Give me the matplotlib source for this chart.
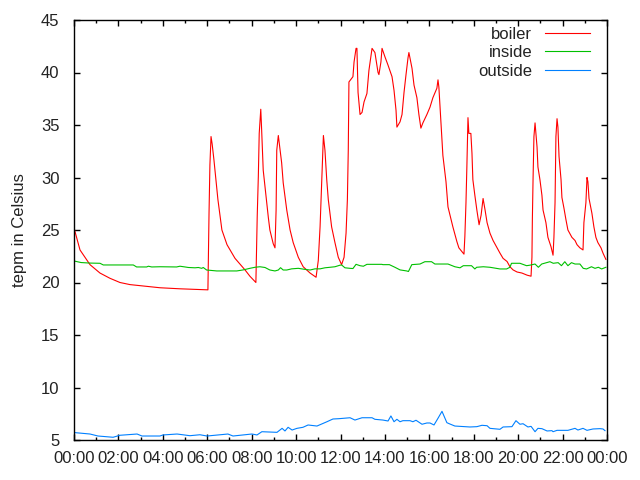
import matplotlib
matplotlib.use("Agg")
import matplotlib.pyplot as plt
from matplotlib.ticker import MultipleLocator, FuncFormatter

plt.rcParams['font.family'] = ['Liberation Sans', 'DejaVu Sans']

# ---- data (hours since midnight, temperature in Celsius) ----
boiler_h = [0.00, 0.27, 0.72, 1.17, 1.62, 2.07, 2.52, 2.97, 3.42, 3.87, 4.77, 6.03,
            6.08, 6.12, 6.17, 6.22, 6.30, 6.48, 6.66, 6.89, 7.25, 7.70, 7.92, 8.19,
            8.25, 8.30, 8.34, 8.41, 8.45, 8.52, 8.60, 8.68, 8.75, 8.82, 8.90, 8.97, 9.05,
            9.10, 9.13, 9.20, 9.35, 9.42, 9.58, 9.73, 9.87, 10.10, 10.32, 10.63, 10.90,
            11.00, 11.08, 11.15, 11.23, 11.30, 11.38, 11.45, 11.60, 11.75, 11.90, 12.05,
            12.16, 12.25, 12.31, 12.35, 12.38, 12.56, 12.61, 12.70, 12.74, 12.79, 12.88,
            12.97, 13.06, 13.19, 13.28, 13.42, 13.55, 13.69, 13.73, 13.82, 13.87, 14.00,
            14.14, 14.32, 14.41, 14.50, 14.54, 14.68, 14.77, 14.86, 14.95, 15.04, 15.08,
            15.22, 15.31, 15.44, 15.53, 15.62, 15.71, 15.89, 16.03, 16.16, 16.34, 16.39,
            16.43, 16.52, 16.61, 16.75, 16.84, 16.97, 17.06, 17.24, 17.33, 17.56, 17.60,
            17.65, 17.69, 17.74, 17.78, 17.87, 17.92, 17.96, 18.05, 18.14, 18.24, 18.33,
            18.42, 18.51, 18.60, 18.73, 18.87, 19.05, 19.18, 19.32, 19.50, 19.63, 19.77,
            19.95, 20.17, 20.40, 20.58, 20.62, 20.64, 20.67, 20.71, 20.76, 20.85, 20.89,
            20.98, 21.07, 21.12, 21.25, 21.34, 21.48, 21.57, 21.61, 21.66, 21.70, 21.75,
            21.79, 21.84, 21.93, 21.97, 22.06, 22.15, 22.24, 22.42, 22.56, 22.65, 22.78,
            22.92, 22.96, 23.05, 23.10, 23.14, 23.19, 23.32, 23.41, 23.50, 23.59, 23.73,
            23.82, 23.95]
boiler_t = [25.2, 23.1, 21.7, 20.9, 20.4, 20.0, 19.8, 19.7, 19.6, 19.5, 19.4, 19.3,
            26.6, 31.2, 33.9, 33.2, 31.7, 27.9, 25.0, 23.6, 22.3, 21.2, 20.6, 20.0,
            26.3, 30.1, 34.2, 36.5, 34.5, 30.7, 29.1, 27.6, 26.2, 25.0, 24.3, 23.7, 23.3,
            26.9, 32.6, 34.0, 31.4, 29.5, 26.9, 25.0, 23.8, 22.4, 21.5, 20.9, 20.5,
            22.1, 25.3, 29.5, 34.0, 32.6, 29.8, 27.9, 25.3, 23.8, 22.4, 21.7,
            22.4, 24.7, 27.9, 32.6, 39.1, 39.6, 41.0, 42.3, 42.3, 38.1, 36.0,
            36.2, 37.2, 38.0, 40.2, 42.3, 41.9, 40.0, 39.8, 41.0, 42.3, 41.5,
            40.7, 39.6, 38.3, 36.4, 34.8, 35.3, 36.0, 38.1, 39.8, 41.4, 41.9,
            40.4, 38.8, 37.6, 36.0, 34.7, 35.2, 36.0, 36.7, 37.6, 38.5, 39.3,
            38.6, 35.3, 32.1, 29.6, 27.2, 26.1, 25.3, 23.9, 23.3, 22.7, 24.4,
            27.6, 31.0, 35.7, 34.2, 34.2, 32.3, 29.8, 28.3, 26.9, 25.5, 26.4,
            28.0, 26.9, 25.7, 24.7, 24.0, 23.3, 22.8, 22.3, 22.0, 21.5, 21.2,
            21.0, 20.9, 20.7, 20.6, 22.4, 26.1, 29.8, 33.9, 35.2, 32.9, 31.0,
            29.8, 28.3, 26.9, 25.7, 24.3, 23.4, 22.6, 24.3, 27.6, 33.9, 35.6,
            34.8, 32.0, 29.8, 28.1, 27.1, 26.0, 25.0, 24.3, 24.0, 23.6, 23.3,
            23.1, 25.7, 27.6, 30.0, 29.6, 28.0, 26.6, 25.3, 24.3, 23.8, 23.3,
            22.8, 22.2]

inside_h = [0.00, 0.32, 0.72, 1.17, 1.32, 2.67, 2.82, 3.27, 3.35, 3.50, 3.87, 4.62,
            4.77, 5.00, 5.15, 5.45, 5.60, 5.75, 5.82, 5.97, 6.43, 7.33, 7.62, 7.92,
            8.15, 8.37, 8.60, 8.82, 9.05, 9.20, 9.30, 9.42, 9.58, 9.80, 10.10, 10.40,
            10.63, 10.85, 11.08, 11.30, 11.53, 11.75, 11.98, 12.05, 12.20, 12.43, 12.56,
            12.70, 12.88, 13.03, 13.19, 13.86, 13.91, 14.20, 14.45, 14.68, 14.98, 15.06,
            15.21, 15.58, 15.80, 16.10, 16.25, 16.84, 17.15, 17.38, 17.53, 17.90, 18.05,
            18.13, 18.43, 18.73, 19.18, 19.48, 19.63, 19.70, 20.08, 20.38, 20.53, 20.76,
            20.91, 21.06, 21.43, 21.58, 21.80, 21.95, 22.10, 22.24, 22.40, 22.56, 22.78,
            22.93, 23.08, 23.30, 23.46, 23.61, 23.76, 23.95]
inside_t = [22.05, 21.90, 21.85, 21.83, 21.67, 21.67, 21.48, 21.48, 21.55, 21.48, 21.50, 21.48,
            21.55, 21.48, 21.43, 21.40, 21.43, 21.35, 21.43, 21.19, 21.10, 21.10, 21.20, 21.35,
            21.45, 21.50, 21.43, 21.19, 21.10, 21.19, 21.41, 21.19, 21.19, 21.30, 21.35, 21.25,
            21.19, 21.30, 21.30, 21.40, 21.45, 21.50, 21.65, 21.67, 21.40, 21.35, 21.33,
            21.73, 21.60, 21.55, 21.73, 21.73, 21.70, 21.70, 21.45, 21.20, 21.10, 21.05,
            21.70, 21.76, 21.98, 21.98, 21.76, 21.76, 21.50, 21.40, 21.60, 21.60, 21.29,
            21.45, 21.50, 21.45, 21.29, 21.29, 21.45, 21.83, 21.83, 21.60, 21.65, 21.76,
            21.45, 21.76, 21.98, 21.83, 21.89, 21.60, 21.98, 21.60, 21.89, 21.76, 21.76,
            21.35, 21.29, 21.50, 21.35, 21.45, 21.29, 21.45]

outside_h = [0.05, 0.72, 1.08, 1.76, 2.07, 2.84, 3.06, 3.87, 4.01, 4.64, 5.22, 5.67,
             5.99, 6.93, 7.16, 7.61, 8.01, 8.24, 8.46, 9.14, 9.37, 9.50, 9.64, 9.82,
             10.04, 10.31, 10.54, 10.94, 11.39, 11.66, 11.93, 12.43, 12.65, 12.97, 13.42,
             13.55, 13.91, 14.14, 14.27, 14.41, 14.54, 14.68, 14.81, 15.13, 15.26, 15.40,
             15.67, 15.89, 16.03, 16.21, 16.39, 16.57, 16.79, 16.93, 17.15, 17.83, 18.14,
             18.37, 18.60, 18.73, 19.18, 19.32, 19.72, 19.90, 20.08, 20.22, 20.44, 20.58,
             20.76, 20.89, 21.07, 21.30, 21.52, 21.57, 21.75, 22.24, 22.56, 22.69, 22.92,
             23.10, 23.37, 23.68, 23.82, 23.91]
outside_t = [5.70, 5.57, 5.38, 5.26, 5.45, 5.57, 5.38, 5.38, 5.48, 5.57, 5.41, 5.50,
             5.38, 5.57, 5.38, 5.48, 5.57, 5.48, 5.79, 5.73, 6.11, 5.86, 6.21, 5.95,
             6.11, 6.21, 6.43, 6.33, 6.74, 7.00, 7.03, 7.12, 6.90, 7.12, 7.12,
             6.97, 6.90, 6.81, 7.29, 6.74, 6.97, 6.74, 6.84, 6.84, 6.74, 6.88,
             6.50, 6.62, 6.62, 6.43, 7.07, 7.73, 6.65, 6.52, 6.33, 6.24, 6.27,
             6.40, 6.36, 6.11, 6.02, 6.24, 6.27, 6.84, 6.50, 6.55, 6.24, 6.30,
             5.79, 6.11, 6.08, 5.86, 5.89, 5.79, 5.92, 5.92, 6.11, 5.95, 6.11,
             5.92, 6.05, 6.08, 6.05, 5.89]

labels = ["boiler", "inside", "outside"]
colors = ["#ff0000", "#00c000", "#0080ff"]

fig = plt.figure(figsize=(6.4, 4.8), dpi=100)
ax = fig.add_axes([74/640, 40/480, 533/640, 420/480])

for (hx, ty), lab, col in zip([(boiler_h, boiler_t), (inside_h, inside_t), (outside_h, outside_t)],
                              labels, colors):
    ax.plot(hx, ty, color=col, lw=0.8, label=lab, antialiased=True)

ax.set_xlim(0, 24)
ax.set_ylim(5, 45)
ax.xaxis.set_major_locator(MultipleLocator(2))
ax.xaxis.set_minor_locator(MultipleLocator(1))
ax.yaxis.set_major_locator(MultipleLocator(5))
ax.xaxis.set_major_formatter(FuncFormatter(lambda v, p: "%02d:00" % (int(round(v)) % 24)))
ax.tick_params(which='both', direction='in', top=True, right=True, labelsize=12,
               width=1, color='black', labelcolor='#222222')
ax.tick_params(which='major', length=4.5)
ax.tick_params(which='minor', length=2.5)
ax.tick_params(axis='x', which='major', pad=8)
ax.tick_params(axis='y', which='major', pad=10.5)
for s in ax.spines.values():
    s.set_linewidth(1)
ax.set_ylabel("tepm in Celsius", fontsize=12, labelpad=10, color='#222222')

leg = ax.legend(loc='upper right', frameon=False, markerfirst=False, fontsize=12,
                handlelength=2.7, handletextpad=0.78, labelspacing=0.2,
                borderaxespad=0, borderpad=0,
                bbox_to_anchor=(590/640, (480-27)/480), bbox_transform=fig.transFigure)
for t in leg.get_texts():
    t.set_ha('right')
    t.set_color('#222222')
for h in leg.get_lines():
    h.set_linewidth(0.8)

fig.savefig("out.png", dpi=100)
